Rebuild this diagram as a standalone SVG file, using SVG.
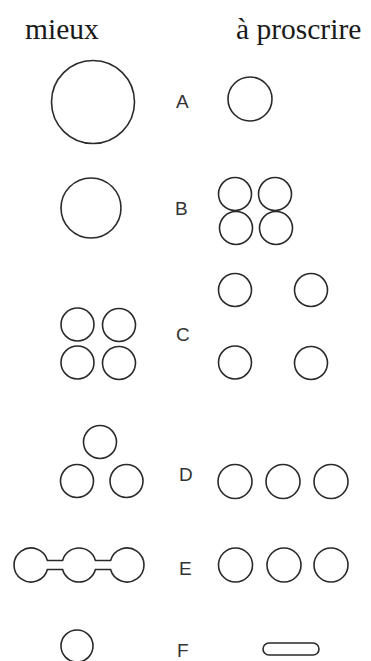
<svg xmlns="http://www.w3.org/2000/svg" width="371" height="661" viewBox="0 0 371 661">
<style>
.c{fill:none;stroke:#2a2a2a;stroke-width:1.6}
.h{font-family:"Liberation Serif","Times New Roman",serif;font-size:29.5px;fill:#1a1a1a}
.l{font-family:"Liberation Sans",Arial,sans-serif;font-size:19px;fill:#333}
</style>
<rect width="371" height="661" fill="#fff"/>
<g id="headers">
<text class="h" x="25" y="39">mieux</text>
<text class="h" x="236" y="39">à proscrire</text>
</g>
<g id="rowA">
<circle class="c" cx="93" cy="102" r="41.5"/>
<text class="l" x="176" y="108">A</text>
<circle class="c" cx="250" cy="99" r="22"/>
</g>
<g id="rowB">
<circle class="c" cx="91" cy="208" r="30"/>
<text class="l" x="175" y="215">B</text>
<circle class="c" cx="235" cy="194" r="16.5"/>
<circle class="c" cx="275" cy="194" r="16.5"/>
<circle class="c" cx="236" cy="228" r="16.5"/>
<circle class="c" cx="276" cy="228" r="16.5"/>
</g>
<g id="rowC">
<circle class="c" cx="77.5" cy="324.5" r="16.5"/>
<circle class="c" cx="119" cy="325" r="16.5"/>
<circle class="c" cx="77.5" cy="362.5" r="16.5"/>
<circle class="c" cx="119" cy="363" r="16.5"/>
<text class="l" x="176" y="341">C</text>
<circle class="c" cx="235" cy="290" r="16.5"/>
<circle class="c" cx="311" cy="290" r="16.5"/>
<circle class="c" cx="235" cy="362.5" r="16.5"/>
<circle class="c" cx="311" cy="363" r="16.5"/>
</g>
<g id="rowD">
<circle class="c" cx="100" cy="442" r="16.5"/>
<circle class="c" cx="77" cy="481" r="16.5"/>
<circle class="c" cx="126.5" cy="481" r="16.5"/>
<text class="l" x="179" y="481">D</text>
<circle class="c" cx="235" cy="481.5" r="17"/>
<circle class="c" cx="283" cy="481.5" r="17"/>
<circle class="c" cx="331" cy="481.5" r="17"/>
</g>
<g id="rowE">
<path class="c" d="M47.4 560.5 L62.6 560.5 A17 17 0 0 1 95.4 560.5 L110.6 560.5 A17 17 0 1 1 110.6 569.5 L95.4 569.5 A17 17 0 0 1 62.6 569.5 L47.4 569.5 A17 17 0 1 1 47.4 560.5 Z"/>
<text class="l" x="179" y="575">E</text>
<circle class="c" cx="235.5" cy="565" r="17"/>
<circle class="c" cx="284" cy="565" r="17"/>
<circle class="c" cx="331" cy="565" r="17"/>
</g>
<g id="rowF">
<circle class="c" cx="77" cy="646" r="16"/>
<text class="l" x="177" y="657">F</text>
<rect class="c" x="263" y="643" width="56" height="12" rx="6"/>
</g>
</svg>
